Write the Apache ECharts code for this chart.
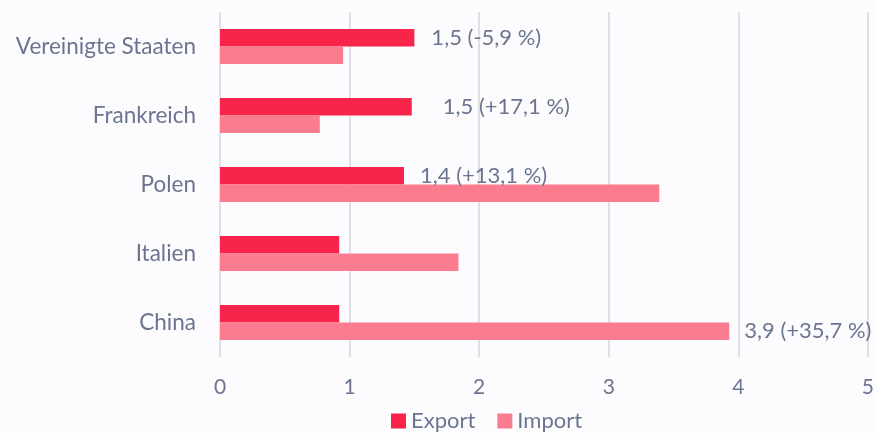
<!DOCTYPE html>
<html>
<head>
<meta charset="utf-8">
<script src="https://cdn.jsdelivr.net/npm/echarts@6/dist/echarts.min.js"></script>
<style>
  html, body { margin: 0; padding: 0; background: #fcfcfe; }
  #chart { width: 877px; height: 433px; }
</style>
</head>
<body>
<div id="chart"></div>
<script>
let categories = ['Vereinigte Staaten', 'Frankreich', 'Polen', 'Italien', 'China'];
let exportValues = [1.50, 1.48, 1.42, 0.92, 0.92];
let importValues = [0.95, 0.77, 3.39, 1.84, 3.93];
let exportLabels = ['1,5 (-5,9 %)', '1,5 (+17,1 %)', '1,4 (+13,1 %)', '', ''];
let importLabels = ['', '', '', '', '3,9 (+35,7 %)'];
let xTicks = [0, 1, 2, 3, 4, 5];

// label distance from bar end, per category
let exportLabelGap = [17, 31, 16, 0, 0];
let importLabelGap = [0, 0, 0, 0, 15];

const textColor = '#6b7590';

function buildData(values, labels, gaps) {
  return values.map(function (v, i) {
    return {
      value: v,
      label: {
        show: labels[i] !== '',
        position: 'right',
        distance: gaps[i],
        formatter: labels[i],
        color: textColor,
        fontSize: 22,
        fontFamily: 'Lato'
      }
    };
  });
}

var myChart = echarts.init(document.getElementById('chart'));
var option = {
  backgroundColor: '#fcfcfe',
  animation: false,
  textStyle: { fontFamily: 'Lato' },
  grid: { left: 220, right: 9, top: 12, height: 345 },
  legend: {
    left: 386,
    bottom: -4,
    itemWidth: 15,
    itemHeight: 15,
    itemGap: 22,
    itemTextGap: 6,
    icon: 'rect',
    textStyle: { color: textColor, fontSize: 22, fontFamily: 'Lato' },
    data: ['Export', 'Import']
  },
  xAxis: {
    type: 'value',
    min: xTicks[0],
    max: xTicks[xTicks.length - 1],
    interval: 1,
    axisLine: { show: false },
    axisTick: { show: false },
    axisLabel: { color: textColor, fontSize: 21, margin: 20, fontFamily: 'Lato' },
    splitLine: { lineStyle: { color: '#dfdfe5', width: 2 } }
  },
  yAxis: {
    type: 'category',
    inverse: true,
    data: categories,
    axisLine: { show: false },
    axisTick: { show: false },
    axisLabel: { color: textColor, fontSize: 22.5, margin: 24, fontFamily: 'Lato' }
  },
  series: [
    {
      name: 'Export',
      type: 'bar',
      barWidth: 17.5,
      barGap: '0%',
      itemStyle: { color: '#f92449' },
      data: buildData(exportValues, exportLabels, exportLabelGap)
    },
    {
      name: 'Import',
      type: 'bar',
      barWidth: 17.5,
      barGap: '0%',
      itemStyle: { color: '#fb7b8f' },
      data: buildData(importValues, importLabels, importLabelGap)
    }
  ]
};
myChart.setOption(option);
</script>
</body>
</html>
